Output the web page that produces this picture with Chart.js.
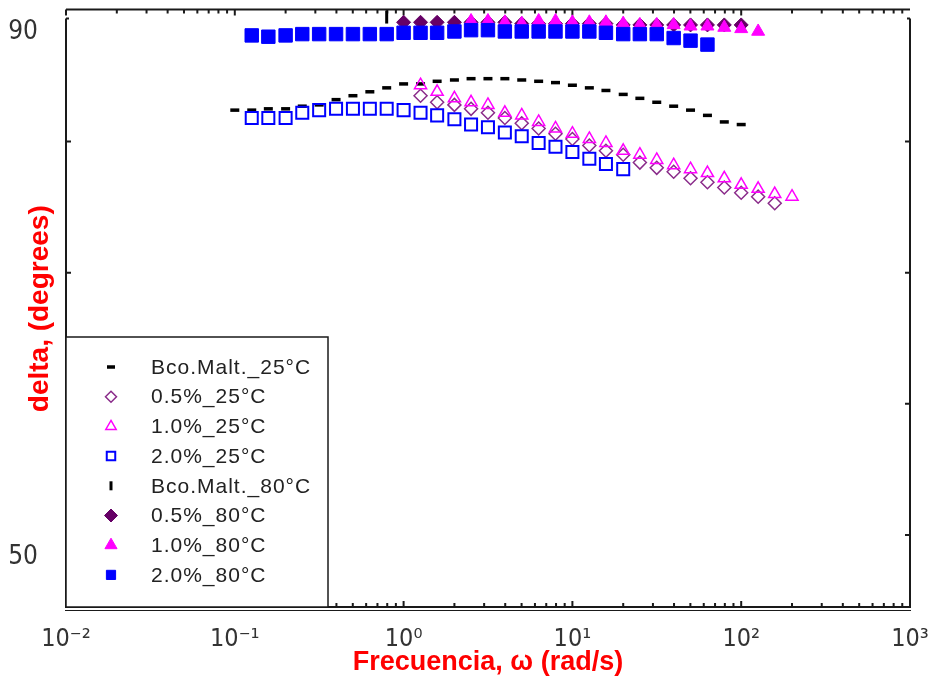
<!DOCTYPE html>
<html>
<head>
<meta charset="utf-8">
<script src="https://cdn.jsdelivr.net/npm/chart.js@4.4.0/dist/chart.umd.min.js"></script>
<style>
  html, body { margin: 0; padding: 0; background: #fff; }
  #contenedor { width: 928px; height: 680px; }
</style>
</head>
<body>
<div id="contenedor"><canvas id="grafico_delta" width="928" height="680"></canvas></div>
<script>
// Frecuencias del barrido (rad/s), 10 puntos por década
const frecuencias = [0.1, 0.126, 0.158, 0.2, 0.251, 0.316, 0.398, 0.501, 0.631, 0.794,
  1, 1.26, 1.58, 2, 2.51, 3.16, 3.98, 5.01, 6.31, 7.94,
  10, 12.6, 15.8, 20, 25.1, 31.6, 39.8, 50.1, 63.1, 79.4,
  100, 126, 158, 200];

// Ángulo de fase delta (grados) de cada muestra
const deltaBcoMalt25 = [82.4, 82.4, 82.5, 82.5, 82.7, 82.8, 83.2, 83.5, 83.8, 84.1,
  84.4, 84.4, 84.6, 84.7, 84.8, 84.8, 84.8, 84.7, 84.6, 84.5,
  84.3, 84.1, 83.9, 83.6, 83.3, 83.0, 82.7, 82.4, 82.0, 81.5, 81.3];
const delta05_25 = [83.5, 83.0, 82.8, 82.5, 82.2, 81.8, 81.4, 81.0, 80.6, 80.2,
  79.7, 79.3, 79.0, 78.4, 78.0, 77.7, 77.2, 76.9, 76.5, 76.1, 75.8, 75.3];
const delta10_25 = [84.3, 83.8, 83.3, 83.0, 82.8, 82.2, 82.0, 81.5, 81.0, 80.6,
  80.2, 79.9, 79.3, 79.0, 78.6, 78.2, 77.9, 77.6, 77.2, 76.7, 76.4, 76.0, 75.8];
const delta20_25 = [81.8, 81.8, 81.8, 82.2, 82.4, 82.5, 82.5, 82.5, 82.5, 82.4,
  82.2, 82.0, 81.7, 81.3, 81.1, 80.7, 80.4, 79.9, 79.6, 79.2, 78.7, 78.3, 77.9];
const deltaBcoMalt80 = [89.5];
const delta05_80 = [89.1, 89.1, 89.1, 89.1, 89.1, 89.1, 89.1, 89.0, 89.0, 89.0,
  89.0, 89.0, 89.0, 88.9, 88.9, 88.9, 88.9, 88.9, 88.9, 88.9, 88.9];
const delta10_80 = [89.2, 89.2, 89.1, 89.0, 89.2, 89.2, 89.1, 89.1, 89.1, 89.0,
  88.9, 88.9, 88.9, 88.8, 88.8, 88.7, 88.6, 88.4];
const delta20_80 = [88.1, 88.0, 88.1, 88.2, 88.2, 88.2, 88.2, 88.2, 88.2, 88.3,
  88.3, 88.3, 88.4, 88.5, 88.5, 88.4, 88.4, 88.4, 88.4, 88.4,
  88.4, 88.3, 88.2, 88.2, 88.2, 87.9, 87.7, 87.4];

// Rango de frecuencias medido en cada muestra
const frecBcoMalt25 = frecuencias.slice(0, 31);
const frec05_25 = frecuencias.slice(11, 33);
const frec10_25 = frecuencias.slice(11, 34);
const frec20_25 = frecuencias.slice(1, 24);
const frecBcoMalt80 = frecuencias.slice(9, 10);
const frec05_80 = frecuencias.slice(10, 31);
const frec10_80 = frecuencias.slice(14, 32);
const frec20_80 = frecuencias.slice(1, 29);

// Marcas y etiquetas de los ejes
const ticksX = [0.01, 0.1, 1, 10, 100, 1000];
const etiquetasX = ['10\u207B\u00B2', '10\u207B\u00B9', '10\u2070', '10\u00B9', '10\u00B2', '10\u00B3'];
const ticksY = [50, 60, 70, 80, 90];
const etiquetasY = ['50', '', '', '', '90'];

const fuenteNumeros = "'Liberation Sans Narrow', 'DejaVu Sans Condensed', 'Liberation Sans', sans-serif";
const fuenteTitulos = "'Liberation Sans', Arial, sans-serif";

function puntos(frec, valores) {
  return frec.map((f, i) => ({ x: f, y: valores[i] }));
}

// Un dataset por muestra; el último se dibuja encima
function serie(i, label, frec, valores, estilo) {
  return Object.assign({
    label: label,
    data: puntos(frec, valores),
    showLine: false,
    clip: false,
    order: 10 - i,
  }, estilo);
}

const datasets = [
  serie(0, 'Bco.Malt._25°C', frecBcoMalt25, deltaBcoMalt25, {
    pointStyle: 'line', pointRadius: 4.5, pointBorderWidth: 3.5,
    borderColor: '#000', backgroundColor: '#000', radioLeyenda: 4 }),
  serie(1, '0.5%_25°C', frec05_25, delta05_25, {
    pointStyle: 'rectRot', pointRadius: 6.5, pointBorderWidth: 1.5,
    borderColor: '#8a2b8a', backgroundColor: 'rgba(0,0,0,0)', radioLeyenda: 5.5 }),
  serie(2, '1.0%_25°C', frec10_25, delta10_25, {
    pointStyle: 'triangle', pointRadius: 7, pointBorderWidth: 1.5,
    borderColor: '#ff00ff', backgroundColor: 'rgba(0,0,0,0)', radioLeyenda: 6 }),
  serie(3, '2.0%_25°C', frec20_25, delta20_25, {
    pointStyle: 'rect', pointRadius: 8.5, pointBorderWidth: 2,
    borderColor: '#0000ff', backgroundColor: 'rgba(0,0,0,0)', radioLeyenda: 6 }),
  serie(4, 'Bco.Malt._80°C', frecBcoMalt80, deltaBcoMalt80, {
    pointStyle: 'line', pointRotation: 90, pointRadius: 6.5, pointBorderWidth: 3,
    borderColor: '#000', backgroundColor: '#000', radioLeyenda: 4.5 }),
  serie(5, '0.5%_80°C', frec05_80, delta05_80, {
    pointStyle: 'rectRot', pointRadius: 7, pointBorderWidth: 1,
    borderColor: '#660066', backgroundColor: '#660066', radioLeyenda: 6.5 }),
  serie(6, '1.0%_80°C', frec10_80, delta10_80, {
    pointStyle: 'triangle', pointRadius: 7.5, pointBorderWidth: 1,
    borderColor: '#ff00ff', backgroundColor: '#ff00ff', radioLeyenda: 7 }),
  serie(7, '2.0%_80°C', frec20_80, delta20_80, {
    pointStyle: 'rect', pointRadius: 9.5, pointBorderWidth: 1,
    borderColor: '#0000ff', backgroundColor: '#0000ff', radioLeyenda: 6.5 }),
];

// Dibuja un marcador con la misma forma que usa Chart.js
function dibujarMarcador(ctx, ds, x, y, r) {
  const estilo = ds.pointStyle;
  ctx.save();
  ctx.strokeStyle = ds.borderColor;
  ctx.fillStyle = ds.backgroundColor;
  ctx.lineWidth = ds.pointBorderWidth;
  ctx.beginPath();
  if (estilo === 'line') {
    if (ds.pointRotation === 90) { ctx.moveTo(x, y - r); ctx.lineTo(x, y + r); }
    else { ctx.moveTo(x - r, y); ctx.lineTo(x + r, y); }
    ctx.stroke();
    ctx.restore();
    return;
  }
  if (estilo === 'rect') {
    const s = r * Math.SQRT1_2;
    ctx.rect(x - s, y - s, 2 * s, 2 * s);
  } else if (estilo === 'rectRot') {
    ctx.moveTo(x, y - r); ctx.lineTo(x + r, y); ctx.lineTo(x, y + r); ctx.lineTo(x - r, y);
    ctx.closePath();
  } else if (estilo === 'triangle') {
    ctx.moveTo(x, y - r);
    ctx.lineTo(x + r * Math.cos(Math.PI / 6), y + r * 0.5);
    ctx.lineTo(x - r * Math.cos(Math.PI / 6), y + r * 0.5);
    ctx.closePath();
  }
  ctx.fill();
  ctx.stroke();
  ctx.restore();
}

// Marco del gráfico con marcas hacia adentro
const marcoEjes = {
  id: 'marcoEjes',
  beforeDatasetsDraw(chart) {
    const { ctx, chartArea: a, scales } = chart;
    ctx.save();
    ctx.strokeStyle = '#1a1a1a';
    ctx.lineWidth = 2;
    ctx.beginPath();
    // eje superior
    ctx.moveTo(a.left, a.top - 1); ctx.lineTo(a.right, a.top - 1);
    // ejes laterales
    ctx.moveTo(a.left, a.top + 8); ctx.lineTo(a.left, a.bottom);
    ctx.moveTo(a.right, a.top + 8); ctx.lineTo(a.right, a.bottom);
    ctx.moveTo(a.left, a.top + 8); ctx.lineTo(a.left + 3, a.top + 8);
    ctx.moveTo(a.right, a.top + 8); ctx.lineTo(a.right - 3, a.top + 8);
    // eje inferior (doble)
    ctx.moveTo(a.left - 1, a.bottom); ctx.lineTo(a.right + 1, a.bottom);
    ctx.stroke();
    ctx.lineWidth = 1;
    ctx.beginPath();
    ctx.moveTo(a.left - 1, a.bottom + 3.5); ctx.lineTo(a.right + 1, a.bottom + 3.5);
    ctx.stroke();

    ctx.lineWidth = 2;
    ctx.beginPath();
    for (let e = -2; e <= 2; e++) {
      for (let m = 1; m <= 9; m++) {
        const px = scales.x.getPixelForValue(m * Math.pow(10, e));
        const largo = m === 1 ? 6 : 4;
        ctx.moveTo(px, a.bottom); ctx.lineTo(px, a.bottom - largo);
        ctx.moveTo(px, a.top - 1); ctx.lineTo(px, a.top - 1 + largo);
      }
    }
    ticksY.slice(0, 4).forEach(v => {
      const py = scales.y.getPixelForValue(v);
      ctx.moveTo(a.left, py); ctx.lineTo(a.left + 5, py);
      ctx.moveTo(a.right, py); ctx.lineTo(a.right - 5, py);
    });
    ctx.stroke();
    ctx.restore();
  }
};

// Leyenda en recuadro, abajo a la izquierda del área de datos
const leyendaRecuadro = {
  id: 'leyendaRecuadro',
  afterDraw(chart) {
    const { ctx, chartArea: a } = chart;
    const x0 = a.left, y0 = 337, x1 = 328, y1 = a.bottom;
    ctx.save();
    ctx.fillStyle = '#fff';
    ctx.fillRect(x0, y0, x1 - x0, y1 - y0);
    ctx.strokeStyle = '#1a1a1a';
    ctx.lineWidth = 1.5;
    ctx.strokeRect(x0, y0, x1 - x0, y1 - y0);
    ctx.font = "21px " + fuenteTitulos;
    ctx.letterSpacing = '1px';
    ctx.textBaseline = 'middle';
    chart.data.datasets.forEach((ds, i) => {
      const yy = 367 + i * 29.7;
      dibujarMarcador(ctx, ds, 111, yy, ds.radioLeyenda);
      ctx.fillStyle = '#222';
      ctx.fillText(ds.label, 151, yy + 1);
    });
    ctx.restore();
  }
};

new Chart(document.getElementById('grafico_delta').getContext('2d'), {
  type: 'scatter',
  data: { datasets: datasets },
  options: {
    responsive: false,
    animation: false,
    devicePixelRatio: 1,
    layout: { padding: { top: 10, right: 18, bottom: 0, left: 0 } },
    plugins: {
      legend: { display: false },
      tooltip: { enabled: false },
    },
    scales: {
      x: {
        type: 'logarithmic',
        min: 0.01,
        max: 1000,
        grid: { display: false },
        border: { display: false },
        afterBuildTicks: s => { s.ticks = ticksX.map(v => ({ value: v })); },
        afterFit: s => { s.height = 73; s.paddingLeft = 0; s.paddingRight = 0; },
        ticks: {
          autoSkip: false,
          maxRotation: 0,
          padding: 9,
          color: '#333',
          font: { family: fuenteNumeros, size: 25 },
          callback: (v) => etiquetasX[ticksX.indexOf(v)],
        },
        title: {
          display: true,
          text: 'Frecuencia, \u03C9 (rad/s)',
          color: '#ff0000',
          font: { family: fuenteTitulos, size: 27, weight: 'bold' },
          padding: { top: 0, bottom: 1 },
        },
      },
      y: {
        min: 44.5,
        max: 90,
        grid: { display: false },
        border: { display: false },
        afterBuildTicks: s => { s.ticks = ticksY.map(v => ({ value: v })); },
        afterFit: s => { s.width = 66; s.paddingTop = 0; s.paddingBottom = 0; },
        ticks: {
          autoSkip: false,
          padding: 20,
          labelOffset: 22,
          color: '#333',
          font: { family: fuenteNumeros, size: 26 },
          callback: (v) => etiquetasY[ticksY.indexOf(v)],
        },
        title: {
          display: true,
          text: 'delta, (degrees)',
          color: '#ff0000',
          font: { family: fuenteTitulos, size: 28, weight: 'bold' },
          padding: { top: 23, bottom: 0 },
        },
      },
    },
  },
  plugins: [marcoEjes, leyendaRecuadro],
});
</script>
</body>
</html>
